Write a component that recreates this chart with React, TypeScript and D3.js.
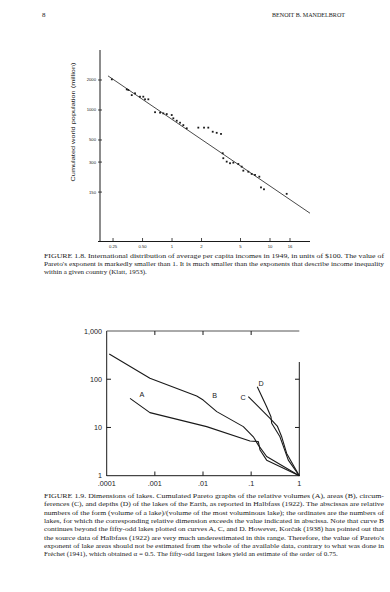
import React from "react";
import * as d3 from "d3";

const W = 390;
const H = 592;

// Figure 1.8: income per capita (units of $100) vs cumulated world population (million)
const incomeX = [0.243, 0.345, 0.358, 0.388, 0.419, 0.471, 0.509, 0.53, 0.573, 0.671,
  0.755, 0.815, 0.883, 0.993, 1.031, 1.117, 1.207, 1.304, 1.413, 1.855,
  2.121, 2.345, 2.602, 2.858, 3.162, 3.291, 3.337, 3.614, 3.908, 4.223,
  4.75, 5.14, 5.34, 6.006, 6.5, 7.03, 7.78, 8.09, 8.68, 14.8];
const incomePop = [2030, 1610, 1590, 1410, 1470, 1360, 1360, 1280, 1280, 950,
  940, 925, 910, 890, 825, 780, 745, 705, 655, 665,
  665, 665, 605, 590, 575, 368, 328, 303, 292, 296,
  287, 270, 246, 240, 228, 223, 214, 167, 160, 144];
const fitX = [0.222, 25.6];
const fitPop = [2200, 92];
const incomeTicks = [0.25, 0.5, 1, 2, 5, 10, 16];
const incomeTickLabels = ["0.25", "0.50", "1", "2", "5", "10", "16"];
const popTicks = [2000, 1000, 500, 300, 150];
const popTickLabels = ["2000", "1000", "500", "300", "150"];

// Figure 1.9: relative dimension vs number of lakes
const lakeTicks = [0.0001, 0.001, 0.01, 0.1, 1];
const lakeTickLabels = [".0001", ".001", ".01", ".1", "1"];
const countTicks = [1, 10, 100, 1000];
const countTickLabels = ["1", "10", "100", "1,000"];
const volX = [0.000305, 0.00079, 0.0119, 0.0946, 0.141, 0.153, 0.21, 1];
const volN = [40, 20.3, 10.4, 5.25, 5.1, 3.4, 2.1, 1];
const areaX = [0.000113, 0.00079, 0.0074, 0.0101, 0.0193, 0.0688, 0.111, 0.141, 0.21, 1];
const areaN = [335, 105, 45, 37, 21.3, 10.4, 6.4, 4.3, 2.5, 1];
const circX = [0.0873, 0.247, 0.349, 0.431, 0.547, 1];
const circN = [43.5, 15.5, 10.7, 6.4, 2.9, 1];
const depthX = [0.134, 0.21, 0.258, 0.267, 0.397, 0.591, 1];
const depthN = [70, 27, 16.7, 12.2, 6.4, 2.1, 1];
const curveNames = ["A", "B", "C", "D"];

const caption1 = [
  "FIGURE 1.8. International distribution of average per capita incomes in 1949, in units of $100. The value of",
  "Pareto's exponent is markedly smaller than 1. It is much smaller than the exponents that describe income inequality",
  "within a given country (Klatt, 1953).",
];
const caption2 = [
  "FIGURE 1.9. Dimensions of lakes. Cumulated Pareto graphs of the relative volumes (A), areas (B), circum-",
  "ferences (C), and depths (D) of the lakes of the Earth, as reported in Halbfass (1922). The abscissas are relative",
  "numbers of the form (volume of a lake)/(volume of the most voluminous lake); the ordinates are the numbers of",
  "lakes, for which the corresponding relative dimension exceeds the value indicated in abscissa. Note that curve B",
  "continues beyond the fifty-odd lakes plotted on curves A, C, and D. However, Korčak (1938) has pointed out that",
  "the source data of Halbfass (1922) are very much underestimated in this range. Therefore, the value of Pareto's",
  "exponent of lake areas should not be estimated from the whole of the available data, contrary to what was done in",
  "Fréchet (1941), which obtained α = 0.5. The fifty-odd largest lakes yield an estimate of the order of 0.75.",
];

const serif = "'Liberation Serif', 'Times New Roman', serif";
const sans = "'Liberation Sans', Arial, sans-serif";
const ink = "#1a1a1a";

export default function App() {
  // chart 1 scales
  const x1 = d3.scaleLog().domain([0.184, 25.6]).range([100, 310]);
  const y1 = d3.scaleLog().domain([3820, 47.3]).range([52, 242]);
  const fitLine = d3.line<number>().x((d) => x1(fitX[d])).y((d) => y1(fitPop[d]));

  // chart 2 scales
  const x2 = d3.scaleLog().domain([1e-4, 1]).range([106.7, 299.3]);
  const y2 = d3.scaleLog().domain([1, 1000]).range([475.7, 331]);
  const lake = (xs: number[], ys: number[]) =>
    d3.line<number>().x((i) => x2(xs[i])).y((i) => y2(ys[i]))(d3.range(xs.length)) || "";
  const curves = [lake(volX, volN), lake(areaX, areaN), lake(circX, circN), lake(depthX, depthN)];
  const labelPos = [
    [0.00054, 42], [0.0175, 40], [0.068, 37], [0.16, 72],
  ];

  return (
    <svg width={W} height={H} style={{ position: "absolute", left: 0, top: 0, background: "#fff" }}>
      <rect width={W} height={H} fill="#fff" />
      {/* running head */}
      <text x={42} y={17} fontFamily={serif} fontSize={7} fill={ink}>8</text>
      <text x={345} y={17} textAnchor="end" fontFamily={serif} fontSize={6.3} fill={ink}
        textLength={73} lengthAdjust="spacingAndGlyphs">BENOIT B. MANDELBROT</text>

      {/* ---- Figure 1.8 ---- */}
      <g stroke={ink} fill="none">
        <line x1={100} y1={50} x2={100} y2={242} strokeWidth={1} />
        <line x1={98} y1={241.5} x2={310} y2={241.5} strokeWidth={1} />
        {incomeTicks.map((t) => (
          <line key={t} x1={x1(t)} x2={x1(t)} y1={241} y2={238} strokeWidth={0.8} />
        ))}
        {popTicks.map((t) => (
          <line key={t} x1={98} x2={102} y1={y1(t)} y2={y1(t)} strokeWidth={0.8} />
        ))}
        <path d={fitLine([0, 1]) || ""} strokeWidth={0.8} />
      </g>
      {incomeX.map((v, i) => (
        <rect key={i} x={x1(v) - 0.9} y={y1(incomePop[i]) - 0.9} width={1.8} height={1.8} fill={ink} />
      ))}
      {popTicks.map((t, i) => (
        <text key={t} x={96} y={y1(t) + 1.5} textAnchor="end" fontFamily={sans} fontSize={4.2} fill={ink}>
          {popTickLabels[i]}
        </text>
      ))}
      {incomeTicks.map((t, i) => (
        <text key={t} x={x1(t)} y={248} textAnchor="middle" fontFamily={sans} fontSize={4.2} fill={ink}>
          {incomeTickLabels[i]}
        </text>
      ))}
      <text transform="translate(75,122) rotate(-90)" textAnchor="middle" fontFamily={sans} fontSize={6.2}
        fill={ink} textLength={119} lengthAdjust="spacingAndGlyphs">
        Cumulated world population (million)
      </text>
      {caption1.map((s, i) => (
        <text key={i} x={44} y={258 + i * 8} fontFamily={serif} fontSize={7} fill={ink}
          textLength={i < caption1.length - 1 ? 340 : undefined} lengthAdjust="spacingAndGlyphs">
          {s}
        </text>
      ))}

      {/* ---- Figure 1.9 ---- */}
      <g stroke={ink} fill="none" strokeWidth={1}>
        <line x1={106.7} y1={331} x2={106.7} y2={476} />
        <line x1={106.7} y1={475.7} x2={299.8} y2={475.7} />
        <line x1={106.7} y1={331} x2={299.3} y2={331} stroke="#555" />
        <line x1={299.3} y1={362} x2={299.3} y2={476} />
        {lakeTicks.slice(1, 4).map((t) => (
          <g key={t}>
            <line x1={x2(t)} x2={x2(t)} y1={331} y2={335} />
            <line x1={x2(t)} x2={x2(t)} y1={475.7} y2={471.5} />
          </g>
        ))}
        {countTicks.slice(1, 3).map((t) => (
          <g key={t}>
            <line x1={106.7} x2={111} y1={y2(t)} y2={y2(t)} />
            <line x1={299.3} x2={295} y1={y2(t)} y2={y2(t)} />
          </g>
        ))}
        {curves.map((d, i) => (
          <path key={i} d={d} strokeWidth={1.1} strokeLinejoin="round" />
        ))}
      </g>
      {countTicks.map((t, i) => (
        <text key={t} x={102} y={i === 0 ? 477.5 : y2(t) + 2.5} textAnchor="end" fontFamily={sans}
          fontSize={7.2} fill={ink}>
          {countTickLabels[i]}
        </text>
      ))}
      {lakeTicks.map((t, i) => (
        <text key={t} x={x2(t)} y={486} textAnchor="middle" fontFamily={sans} fontSize={7.2} fill={ink}>
          {lakeTickLabels[i]}
        </text>
      ))}
      {curveNames.map((n, i) => (
        <text key={n} x={x2(labelPos[i][0])} y={y2(labelPos[i][1])} textAnchor="middle" fontFamily={sans}
          fontSize={7.2} fill={ink}>
          {n}
        </text>
      ))}
      {caption2.map((s, i) => (
        <text key={i} x={44} y={498 + i * 8.3} fontFamily={serif} fontSize={7} fill={ink}
          textLength={i < caption2.length - 1 ? 340 : undefined} lengthAdjust="spacingAndGlyphs">
          {s}
        </text>
      ))}
    </svg>
  );
}
